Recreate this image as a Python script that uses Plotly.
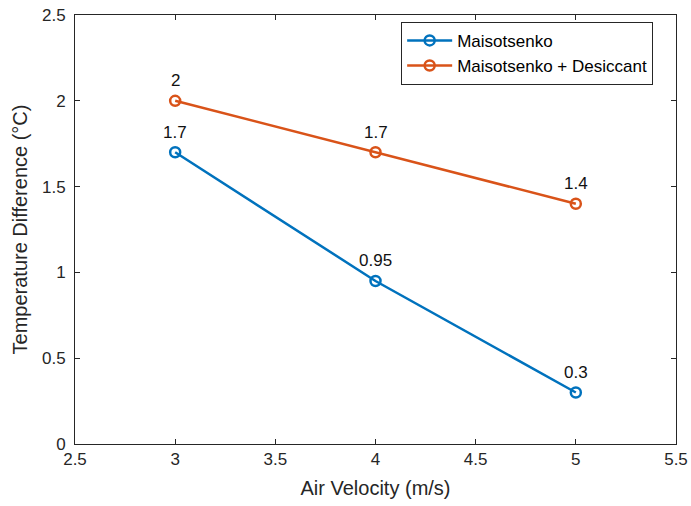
import plotly.graph_objects as go

velocity = [3, 4, 5]
maisotsenko = [1.7, 0.95, 0.3]
maisotsenko_desiccant = [2.0, 1.7, 1.4]
labels_m = ["1.7", "0.95", "0.3"]
labels_md = ["2", "1.7", "1.4"]
x_ticks = [2.5, 3, 3.5, 4, 4.5, 5, 5.5]
x_ticktext = ["2.5", "3", "3.5", "4", "4.5", "5", "5.5"]
y_ticks = [0, 0.5, 1, 1.5, 2, 2.5]
y_ticktext = ["0", "0.5", "1", "1.5", "2", "2.5"]

blue = "#0072BD"
orange = "#D95319"
font = "Liberation Sans, Arial, sans-serif"
txt = "#262626"

fig = go.Figure()
fig.add_trace(go.Scatter(x=velocity, y=maisotsenko, mode="lines+markers", name="Maisotsenko",
                         line=dict(color=blue, width=2.5),
                         marker=dict(symbol="circle-open", size=10, color=blue, line=dict(width=2.5))))
fig.add_trace(go.Scatter(x=velocity, y=maisotsenko_desiccant, mode="lines+markers", name="Maisotsenko + Desiccant",
                         line=dict(color=orange, width=2.5),
                         marker=dict(symbol="circle-open", size=10, color=orange, line=dict(width=2.5))))

for xs, ys, labs in [(velocity, maisotsenko, labels_m), (velocity, maisotsenko_desiccant, labels_md)]:
    for x, y, t in zip(xs, ys, labs):
        fig.add_annotation(x=x, y=y, text=t, showarrow=False, yshift=20,
                           font=dict(family=font, size=17, color="#111111"))

axis_common = dict(showline=True, linecolor=txt, linewidth=1, mirror="ticks",
                   ticks="inside", ticklen=5, tickcolor=txt, showgrid=False, zeroline=False,
                   automargin=False,
                   tickfont=dict(family=font, size=17, color=txt))

fig.update_xaxes(range=[2.5, 5.5], tickvals=x_ticks, ticktext=x_ticktext,
                 title=dict(text="Air Velocity (m/s)", font=dict(family=font, size=20, color=txt), standoff=12),
                 **axis_common)
fig.update_yaxes(range=[0, 2.5], tickvals=y_ticks, ticktext=y_ticktext, ticklabelstandoff=5,
                 title=dict(text="Temperature Difference (°C)", font=dict(family=font, size=20, color=txt), standoff=8),
                 **axis_common)

fig.update_layout(
    width=691, height=506,
    margin=dict(l=75, r=15, t=15, b=62),
    plot_bgcolor="white", paper_bgcolor="white",
    legend=dict(x=0.962, y=0.984, xanchor="right", yanchor="top",
                bordercolor=txt, borderwidth=1, bgcolor="white",
                font=dict(family=font, size=17, color="#000000"),
                tracegroupgap=0, itemwidth=45),
    showlegend=True,
)

fig.write_html("out.html")
